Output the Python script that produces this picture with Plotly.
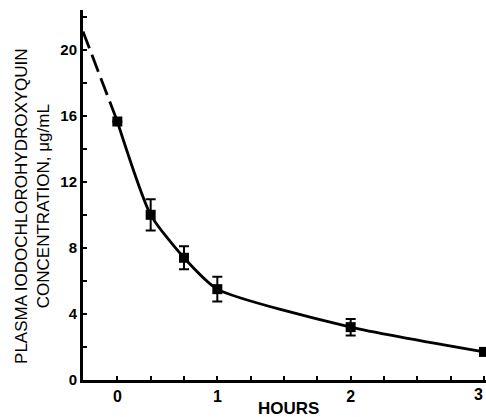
import plotly.graph_objects as go

# Axis position units: one unit per minor x tick (20-min spacing as drawn)
x_pos = [0, 1, 2, 3, 7, 11]
conc = [15.65, 10.0, 7.4, 5.5, 3.2, 1.7]
err = [0, 0.95, 0.7, 0.75, 0.5, 0]

extrap_x = [-1.03, 0]
extrap_y = [21.1, 15.65]

x_tick_vals = list(range(0, 12))
x_tick_labels = {0: "0", 3: "1", 7: "2", 11: "3"}
y_tick_vals = list(range(0, 23, 2))

FONT = "Liberation Sans, Arial, sans-serif"

fig = go.Figure()
fig.add_trace(go.Scatter(
    x=extrap_x, y=extrap_y, mode="lines",
    line=dict(color="black", width=2.8, dash="18px,7px"),
    showlegend=False, hoverinfo="skip"))
fig.add_trace(go.Scatter(
    x=x_pos, y=conc, mode="lines+markers",
    line=dict(color="black", width=2.8, shape="spline", smoothing=0.6),
    marker=dict(symbol="square", size=10, color="black"),
    error_y=dict(type="data", array=err, visible=True, color="black",
                 thickness=2, width=5),
    showlegend=False))

last_tick = max(x_tick_labels)
fig.update_layout(
    width=486, height=417,
    margin=dict(l=83, r=0, t=10, b=37),
    paper_bgcolor="white", plot_bgcolor="white",
    xaxis=dict(range=[-1.03, 11.06], showgrid=False, zeroline=False,
               showline=True, linecolor="black", linewidth=3,
               ticks="inside", ticklen=4, tickwidth=2, tickcolor="black",
               tickvals=x_tick_vals,
               ticktext=[x_tick_labels.get(v, "") if v != last_tick else "" for v in x_tick_vals],
               tickfont=dict(family=FONT, size=16, color="black", weight="bold")),
    yaxis=dict(range=[0, 22.4], showgrid=False, zeroline=False,
               showline=True, linecolor="black", linewidth=3,
               ticks="inside", ticklen=4, tickwidth=2, tickcolor="black",
               tickvals=y_tick_vals,
               ticktext=[str(v) if v % 4 == 0 and v <= 20 else "" for v in y_tick_vals],
               tickfont=dict(family=FONT, size=15, color="black", weight="bold")),
    annotations=[
        dict(text="PLASMA IODOCHLOROHYDROXYQUIN<br>CONCENTRATION, μg/mL",
             xref="paper", yref="paper", x=-0.127, y=0.47,
             xanchor="center", yanchor="middle", textangle=-90,
             showarrow=False,
             font=dict(family=FONT, size=17, color="black")),
        dict(text="HOURS", xref="paper", yref="paper", x=0.509, y=-0.076,
             xanchor="center", yanchor="middle", showarrow=False,
             font=dict(family=FONT, size=17, color="black", weight="bold")),
        dict(text=x_tick_labels[last_tick], xref="paper", yref="paper",
             x=0.998, y=-0.038, xanchor="right", yanchor="middle",
             showarrow=False,
             font=dict(family=FONT, size=16, color="black", weight="bold")),
    ],
)

fig.write_html("out.html")
